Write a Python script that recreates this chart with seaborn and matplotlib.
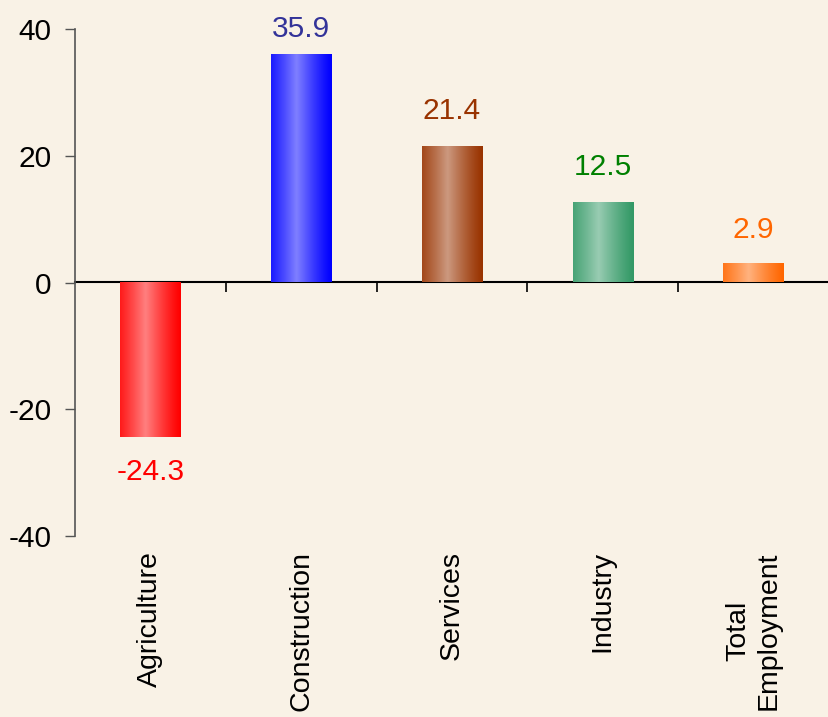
import numpy as np
import pandas as pd
import matplotlib
matplotlib.use("Agg")
import matplotlib.pyplot as plt
import seaborn as sns
from matplotlib.colors import to_rgb

categories = ["Agriculture", "Construction", "Services", "Industry", "Total\nEmployment"]
values = [-24.3, 35.9, 21.4, 12.5, 2.9]
value_labels = ["-24.3", "35.9", "21.4", "12.5", "2.9"]
yticks = [-40, -20, 0, 20, 40]

bar_colors = ["#FF0000", "#0000FF", "#993300", "#339966", "#FF6600"]
label_colors = ["#FF0000", "#333399", "#993300", "#008000", "#FF6600"]
label_offsets_px = [21, 12, 22, 22, 20]

bg = "#F9F2E6"
sns.set_theme(style="white")
plt.rcParams["font.family"] = ["Liberation Sans", "DejaVu Sans"]
FS = 21.5
FS_X = 20.5

fig = plt.figure(figsize=(8.29, 7.17), dpi=100, facecolor=bg)
ax = fig.add_axes([75 / 829, 1 - 536 / 717, 1 - 75 / 829, (536 - 29) / 717])
ax.set_facecolor(bg)

df = pd.DataFrame({"cat": categories, "val": values})
sns.barplot(data=df, x="cat", y="val", hue="cat", palette=bar_colors,
            legend=False, width=0.4, ax=ax, saturation=1)

# gradient fill for each bar
n = 64
t = np.linspace(0, 1, n)
light = np.clip(1 - np.abs(t - 0.42) / 0.58, 0, 1) ** 1.2
for patch, col in zip(ax.patches, bar_colors):
    x, y = patch.get_x(), patch.get_y()
    w, h = patch.get_width(), patch.get_height()
    base = np.array(to_rgb(col))
    mix = 0.5 * light[:, None]
    rgb = base[None, :] * (1 - mix) + mix
    img = rgb[None, :, :]
    ax.imshow(img, extent=[x, x + w, min(y, y + h), max(y, y + h)],
              aspect="auto", interpolation="bilinear", zorder=patch.get_zorder())
    patch.set_facecolor("none")
    patch.set_edgecolor("none")

# value labels
for i, (v, lab, c, off) in enumerate(zip(values, value_labels, label_colors, label_offsets_px)):
    if v >= 0:
        ax.annotate(lab, (i, v), xytext=(0, off * 0.72), textcoords="offset points",
                    ha="center", va="bottom", color=c, fontsize=FS)
    else:
        ax.annotate(lab, (i, v), xytext=(0, -off * 0.72), textcoords="offset points",
                    ha="center", va="top", color=c, fontsize=FS)

ax.set_xlim(-0.5, 4.5)
ax.set_ylim(-40, 40)
ax.set_yticks(yticks)
ax.set_yticklabels([str(v) for v in yticks], fontsize=FS, color="black")
ax.tick_params(axis="y", direction="out", length=7, width=1, color="#555555", pad=10, left=True)

ax.set_xticks(range(len(categories)))
ax.set_xticklabels(categories, rotation=90, fontsize=FS_X, color="black", va="top", ha="center")
ax.tick_params(axis="x", length=0, pad=11)
ax.set_xlabel("")
ax.set_ylabel("")

for s in ["top", "right", "bottom"]:
    ax.spines[s].set_visible(False)
ax.spines["left"].set_color("#555555")
ax.spines["left"].set_linewidth(1.2)

# zero line with ticks between categories
sec = ax.secondary_xaxis(0.5)
sec.set_xticks([0.5, 1.5, 2.5, 3.5])
sec.set_xticklabels([])
sec.tick_params(axis="x", direction="in", length=7, width=1.2, color="black")
for sp in sec.spines.values():
    sp.set_color("black")
    sp.set_linewidth(1.5)

fig.savefig("out.png", dpi=100, facecolor=bg)
